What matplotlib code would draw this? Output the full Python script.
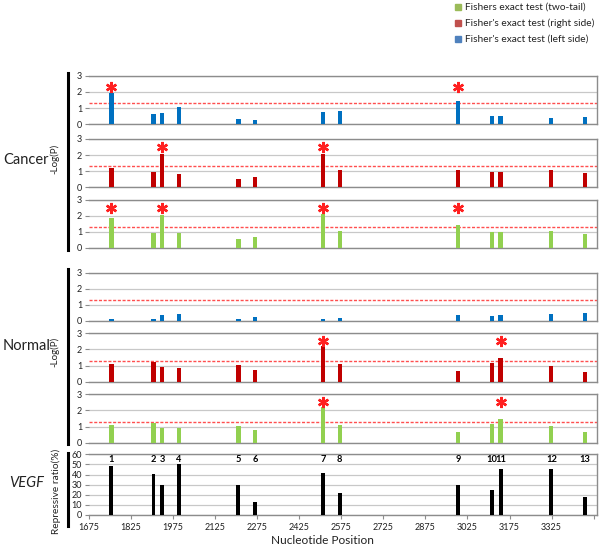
import matplotlib
matplotlib.use("Agg")
import matplotlib.pyplot as plt
from matplotlib.lines import Line2D
from matplotlib.patches import Rectangle

plt.rcParams['font.family'] = ['Lato', 'DejaVu Sans']

# ---- data ----
positions = [1755, 1905, 1935, 1995, 2208, 2267, 2510, 2569, 2992, 3112, 3143, 3324, 3444]
site_labels = ['1', '2', '3', '4', '5', '6', '7', '8', '9', '10', '11', '12', '13']

cancer_left = [1.93, 0.62, 0.68, 1.09, 0.35, 0.25, 0.78, 0.80, 1.44, 0.53, 0.53, 0.39, 0.43]
cancer_right = [1.22, 0.93, 2.05, 0.83, 0.52, 0.64, 2.09, 1.08, 1.08, 0.97, 0.97, 1.06, 0.91]
cancer_two = [1.87, 0.94, 2.02, 0.92, 0.52, 0.65, 2.08, 1.06, 1.40, 1.00, 1.00, 1.04, 0.88]

normal_left = [0.12, 0.12, 0.37, 0.43, 0.12, 0.25, 0.12, 0.19, 0.37, 0.31, 0.37, 0.41, 0.52]
normal_right = [1.10, 1.22, 0.91, 0.87, 1.03, 0.75, 2.19, 1.08, 0.66, 1.18, 1.47, 0.95, 0.62]
normal_two = [1.12, 1.24, 0.93, 0.89, 1.06, 0.77, 2.23, 1.12, 0.68, 1.18, 1.49, 1.01, 0.66]

# significant sites (indices into positions)
cancer_left_sig = [0, 8]
cancer_right_sig = [2, 6]
cancer_two_sig = [0, 2, 6, 8]
normal_left_sig = []
normal_right_sig = [6, 10]
normal_two_sig = [6, 10]

vegf_ratio = [48, 41, 30, 50, 30, 13, 42, 22, 30, 25, 45, 45, 18]

threshold = 1.3
xticks = [1675, 1825, 1975, 2125, 2275, 2425, 2575, 2725, 2875, 3025, 3175, 3325, 3475]
xtick_labels = ['1675', '1825', '1975', '2125', '2275', '2425', '2575', '2725', '2875',
                '3025', '3175', '3325', '']

legend_labels = ["Fishers exact test (two-tail)", "Fisher's exact test (right side)",
                 "Fisher's exact test (left side)"]

# ---- style ----
C_BLUE = '#0070C0'
C_RED = '#C00000'
C_GREEN = '#92D050'
LEG_COLORS = ['#9BBB59', '#C0504D', '#4F81BD']
GRID = '#C8C8C8'
FRAME = '#8C8C8C'
TXT = '#222222'
W, H = 600, 548
XMIN, XMAX = 1675, 3487

fig = plt.figure(figsize=(6, 5.48), dpi=100)


def make_ax(top, bottom):
    return fig.add_axes([89 / W, 1 - bottom / H, 508 / W, (bottom - top) / H])


def style_ax(ax, ymax, ystep, xlabels=False):
    ax.set_xlim(XMIN, XMAX)
    ax.set_ylim(0, ymax)
    ax.set_yticks(list(range(0, ymax + 1, ystep)))
    ax.yaxis.grid(True, color=GRID, lw=0.9)
    ax.set_axisbelow(True)
    for s in ['top', 'right', 'bottom']:
        ax.spines[s].set_color(FRAME)
        ax.spines[s].set_linewidth(1.0)
    ax.spines['left'].set_visible(False)
    ax.tick_params(axis='y', length=3, color=FRAME, labelsize=6.5, pad=2, labelcolor=TXT)
    if xlabels:
        ax.set_xticks(xticks)
        ax.set_xticklabels(xtick_labels)
        ax.tick_params(axis='x', length=3, color=FRAME, labelsize=6.5, pad=3, labelcolor=TXT)
    else:
        ax.set_xticks([])


def pval_panel(top, bottom, vals, color, sig, star_y):
    ax = make_ax(top, bottom)
    style_ax(ax, 3, 1)
    ax.bar(positions, vals, width=15, color=color, zorder=3)
    ax.axhline(threshold, color='#FF3030', lw=1.0, ls=(0, (2.2, 1.2)), zorder=2, alpha=0.85)
    for i in sig:
        ax.plot(positions[i], star_y, marker=(6, 2, 0), ms=8, mew=1.7, color='#FF2020',
                zorder=4, clip_on=False)
    return ax


pval_panel(75.7, 124.3, cancer_left, C_BLUE, cancer_left_sig, 2.3)
pval_panel(139, 187.3, cancer_right, C_RED, cancer_right_sig, 2.5)
pval_panel(199.7, 247.7, cancer_two, C_GREEN, cancer_two_sig, 2.5)
pval_panel(272.7, 321, normal_left, C_BLUE, normal_left_sig, 2.5)
pval_panel(333.3, 381.7, normal_right, C_RED, normal_right_sig, 2.5)
pval_panel(394.3, 442.7, normal_two, C_GREEN, normal_two_sig, 2.5)

# VEGF panel
axv = make_ax(454.3, 515)
style_ax(axv, 60, 10, xlabels=True)
axv.bar(positions, vegf_ratio, width=14, color='black', zorder=3)
for p, lab in zip(positions, site_labels):
    axv.text(p, 54.5, lab, ha='center', va='center', fontsize=6.7, fontweight='bold', zorder=4)

fig.text(56 / W, 1 - 491 / H, 'Repressive ratio(%)', ha='center', va='center', rotation=90,
         fontsize=7.3, color=TXT)

# x-axis title
fig.text(322 / W, 1 - 540 / H, 'Nucleotide Position', ha='center', va='center', fontsize=8.6,
         color=TXT)

# group brackets and labels
for y0, y1 in [(73, 250), (269, 444), (453, 526)]:
    fig.add_artist(Line2D([68 / W, 68 / W], [1 - y0 / H, 1 - y1 / H], color='black', lw=2.2))

fig.text(3 / W, 1 - 160 / H, 'Cancer', ha='left', va='center', fontsize=10.5, color=TXT)
fig.text(3 / W, 1 - 346 / H, 'Normal', ha='left', va='center', fontsize=10.5, color=TXT)
fig.text(9 / W, 1 - 483 / H, 'VEGF', ha='left', va='center', fontsize=10.5, style='italic',
         color=TXT)
fig.text(55 / W, 1 - 159 / H, '-Log(P)', ha='center', va='center', rotation=90, fontsize=7,
         color=TXT)
fig.text(55 / W, 1 - 352 / H, '-Log(P)', ha='center', va='center', rotation=90, fontsize=7,
         color=TXT)

# legend
for k, (lab, col) in enumerate(zip(legend_labels, LEG_COLORS)):
    yc = 1 - (7 + 16 * k) / H
    fig.add_artist(Rectangle((455 / W, yc - 3 / H), 6 / W, 6 / H, color=col,
                             transform=fig.transFigure))
    fig.text(465 / W, yc, lab, ha='left', va='center', fontsize=7.3, color=TXT)

fig.savefig('out.png', dpi=100)
